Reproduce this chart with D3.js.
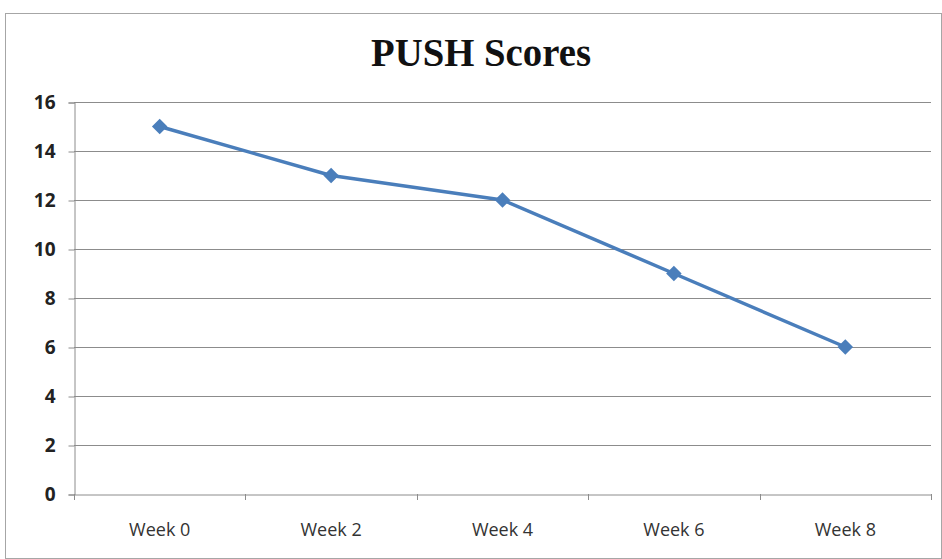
<!DOCTYPE html>
<html>
<head>
<meta charset="utf-8">
<script src="https://cdn.jsdelivr.net/npm/d3@7"></script>
<style>
body{margin:0;background:#fff;}
</style>
</head>
<body>
<svg id="box" width="942" height="559"></svg>
<script>
let weeks=["Week 0","Week 2","Week 4","Week 6","Week 8"];
let scores=[15,13,12,9,6];
let yTicks=[0,2,4,6,8,10,12,14,16];

let box=d3.select("#box");
box.append("rect").attr("x",5.5).attr("y",13.5).attr("width",936).attr("height",545)
  .attr("fill","#fff").attr("stroke","#a6a6a6").attr("stroke-width",1);

let padL=74,padR=931,padT=102,padB=494;
let xScale=d3.scaleBand().domain(weeks).range([padL,padR]);
let yScale=d3.scaleLinear().domain([0,16]).range([padB,padT]);

// gridlines
box.append("g").selectAll("line").data(yTicks.filter(d=>d>0)).enter().append("line")
  .attr("x1",padL).attr("x2",padR).attr("y1",d=>yScale(d)+0.5).attr("y2",d=>yScale(d)+0.5)
  .style("stroke","#8c8c8c").style("stroke-width",1);

let yAxis=d3.axisLeft(yScale).tickValues(yTicks).tickSize(6).tickPadding(13);
let gy=box.append("g").attr("transform","translate("+(padL+0.5)+",0.5)").call(yAxis);
gy.selectAll("path,line").style("stroke","#8c8c8c");
gy.selectAll("text").style("font","bold 19px 'Open Sans', 'DejaVu Sans', sans-serif").style("fill","#222");

let xAxis=d3.axisBottom(xScale).tickSize(0).tickPadding(29);
let gx=box.append("g").attr("transform","translate(0,"+(padB+0.5)+")").call(xAxis);
gx.select("path").style("stroke","#8c8c8c");
gx.selectAll("text").style("font","18px 'Open Sans', 'DejaVu Sans', sans-serif").style("fill","#333");
// boundary tick marks
let bounds=weeks.map(w=>xScale(w)).concat([padR]);
box.append("g").selectAll("line").data(bounds).enter().append("line")
  .attr("x1",d=>Math.round(d)+0.5).attr("x2",d=>Math.round(d)+0.5).attr("y1",padB).attr("y2",padB+6)
  .style("stroke","#8c8c8c");

let line=d3.line().x((d,i)=>xScale(weeks[i])+xScale.bandwidth()/2).y(d=>yScale(d));
box.append("path").datum(scores).attr("d",line).attr("fill","none")
  .style("stroke","#4a7ebb").style("stroke-width",3.5).style("stroke-linejoin","round");
box.selectAll("path.pt").data(scores).enter().append("path").attr("class","pt")
  .attr("d",d3.symbol().type(d3.symbolSquare).size(120))
  .attr("transform",(d,i)=>"translate("+(xScale(weeks[i])+xScale.bandwidth()/2)+","+yScale(d)+") rotate(45)")
  .attr("fill","#4a7ebb");

box.append("text").attr("x",481).attr("y",66).attr("text-anchor","middle")
  .attr("textLength",220).attr("lengthAdjust","spacingAndGlyphs")
  .style("font","bold 40px 'Liberation Serif', 'Times New Roman', serif").style("fill","#111")
  .text("PUSH Scores");
</script>
</body>
</html>
